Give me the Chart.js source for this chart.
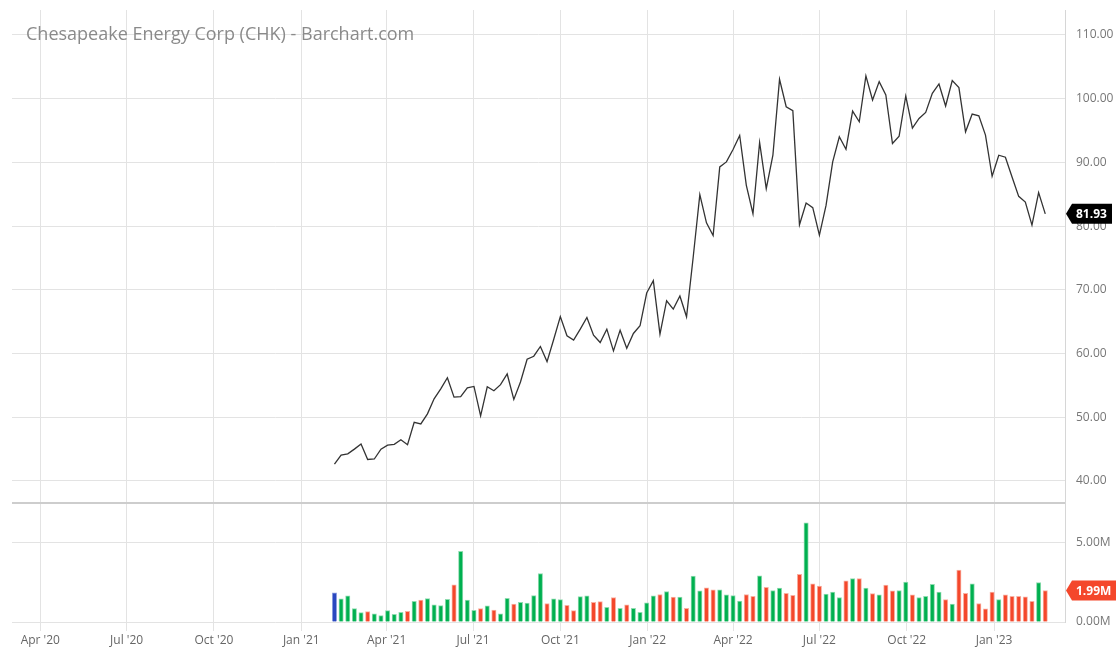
<!DOCTYPE html>
<html>
<head>
<meta charset="utf-8">
<script src="https://cdn.jsdelivr.net/npm/chart.js@4.4.1/dist/chart.umd.min.js"></script>
<style>
  body { margin: 0; background: #fff; }
  #wrap { position: relative; width: 1116px; height: 648px; overflow: hidden; }
  canvas { position: absolute; left: 0; }
  #price { top: 0; }
  #volume { top: 502px; }
  #title {
    position: absolute; left: 26px; top: 24px;
    font: 18px "Open Sans", sans-serif; line-height: 18px;
    color: #8a8a8a; white-space: nowrap;
  }
</style>
</head>
<body>
<div id="wrap">
  <canvas id="price" width="1116" height="502"></canvas>
  <canvas id="volume" width="1116" height="146"></canvas>
  <div id="title">Chesapeake Energy Corp (CHK) - Barchart.com</div>
</div>
<script>
// weekly data, first week of trading after relisting
const firstWeek = '2021-02-05';

const closes = [
  42.63, 44.05, 44.26, 45.00, 45.79, 43.37, 43.45, 45.00, 45.63, 45.74,
  46.47, 45.68, 49.21, 48.95, 50.53, 52.89, 54.47, 56.21, 53.16, 53.25,
  54.63, 54.84, 50.21, 54.79, 54.16, 55.11, 56.79, 52.79, 55.53, 59.11,
  59.58, 61.11, 58.74, 62.21, 65.79, 62.79, 62.10, 63.83, 65.67, 62.89,
  61.73, 63.83, 60.42, 63.67, 60.84, 63.15, 64.36, 69.50, 71.44, 63.04,
  68.29, 66.98, 69.03, 65.77, 75.12, 84.93, 80.52, 78.53, 89.29, 90.08,
  92.02, 94.23, 86.40, 81.94, 93.12, 85.88, 91.13, 103.04, 98.74, 98.11,
  80.21, 83.62, 82.89, 78.58, 83.25, 90.08, 94.02, 92.07, 98.06, 96.38,
  103.57, 99.79, 102.68, 100.58, 92.97, 94.12, 100.42, 95.38, 96.90, 97.85,
  100.84, 102.31, 98.85, 102.83, 101.73, 94.80, 97.59, 97.32, 94.28, 87.82,
  91.13, 90.81, 87.72, 84.67, 83.78, 80.16, 85.25, 81.93
];

// volume in millions of shares
const volumes = [
  1.84, 1.46, 1.65, 0.85, 0.59, 0.66, 0.51, 0.40, 0.72, 0.49,
  0.61, 0.68, 1.31, 1.38, 1.48, 1.08, 1.04, 1.44, 2.35, 4.47,
  1.38, 0.74, 0.85, 1.02, 0.76, 0.51, 1.50, 1.14, 1.25, 1.19,
  1.67, 3.07, 1.17, 1.46, 1.42, 1.06, 0.72, 1.61, 1.65, 1.25,
  1.29, 0.93, 1.55, 0.87, 1.08, 0.87, 0.61, 1.21, 1.65, 1.74,
  1.93, 1.57, 1.57, 0.87, 2.90, 1.97, 2.16, 2.03, 2.03, 1.72,
  1.67, 1.33, 1.74, 1.63, 2.92, 2.20, 1.99, 2.14, 1.82, 1.69,
  3.01, 6.27, 2.42, 2.27, 1.76, 1.89, 1.55, 2.61, 2.75, 2.75,
  2.14, 1.80, 1.72, 2.33, 1.97, 1.99, 2.52, 1.72, 1.55, 1.63,
  2.39, 1.89, 1.42, 1.14, 3.28, 1.82, 2.42, 1.17, 0.83, 1.89,
  1.42, 1.72, 1.63, 1.63, 1.59, 1.31, 2.50, 1.99
];

const tickDates = ['2020-04-01', '2020-07-01', '2020-10-01', '2021-01-01', '2021-04-01', '2021-07-01',
                   '2021-10-01', '2022-01-01', '2022-04-01', '2022-07-01', '2022-10-01', '2023-01-01'];
const tickLabels = ["Apr '20", "Jul '20", "Oct '20", "Jan '21", "Apr '21", "Jul '21",
                    "Oct '21", "Jan '22", "Apr '22", "Jul '22", "Oct '22", "Jan '23"];
const priceTicks = [40, 50, 60, 70, 80, 90, 100, 110];
const volumeTicks = [0, 5];

const dayNum = s => Date.UTC(+s.slice(0, 4), +s.slice(5, 7) - 1, +s.slice(8, 10)) / 864e5;
const weekDays = closes.map((_, i) => dayNum(firstWeek) + 7 * i);
const tickDays = tickDates.map(dayNum);
const xMin = dayNum('2020-04-01') - 29.8;
const xMax = dayNum('2023-01-01') + 74.8;

const GRID = '#e3e3e3';
const FONT = { family: '"Open Sans", sans-serif', size: 12 };
const UP = '#00b050', DOWN = '#f4472b', FIRST = '#2a48c0';

const barColors = closes.map((c, i) => i === 0 ? FIRST : (c >= closes[i - 1] ? UP : DOWN));
const barBorders = closes.map((c, i) => i === 0 ? '#8fa0e0' : (c >= closes[i - 1] ? '#8fdcb0' : '#f9b0a2'));

// keep the plot box exactly where the layout padding puts it
const noPad = s => { s.paddingTop = 0; s.paddingBottom = 0; s.paddingLeft = 0; s.paddingRight = 0; };

const sharedX = {
    type: 'linear',
    min: xMin,
    max: xMax,
    offset: false,
    afterBuildTicks: s => { s.ticks = tickDays.map(v => ({ value: v })); },
};

// little arrow tag showing the last value on the right axis
const lastTag = {
    id: 'lastTag',
    afterDraw(chart, args, opts) {
        const { ctx, chartArea } = chart;
        const y = chart.scales.y.getPixelForValue(opts.value);
        const x = chartArea.right + 1;
        ctx.save();
        ctx.fillStyle = opts.color;
        ctx.beginPath();
        ctx.moveTo(x, y);
        ctx.lineTo(x + 6, y - 10);
        ctx.lineTo(x + opts.width, y - 10);
        ctx.lineTo(x + opts.width, y + 10);
        ctx.lineTo(x + 6, y + 10);
        ctx.closePath();
        ctx.fill();
        ctx.fillStyle = '#fff';
        ctx.font = 'bold 12px "Open Sans", sans-serif';
        ctx.textBaseline = 'middle';
        ctx.textAlign = 'left';
        ctx.fillText(opts.text, x + 10, y + 1);
        ctx.restore();
    }
};

const separator = {
    id: 'separator',
    afterDraw(chart) {
        const { ctx, chartArea } = chart;
        ctx.save();
        ctx.fillStyle = '#cdcdcd';
        ctx.fillRect(chartArea.left, chartArea.top, chartArea.right - chartArea.left, 2);
        ctx.restore();
    }
};

new Chart(document.getElementById('price'), {
    type: 'line',
    data: {
        datasets: [{
            data: weekDays.map((d, i) => ({ x: d, y: closes[i] })),
            borderColor: '#333',
            borderWidth: 1.3,
            pointRadius: 0,
            tension: 0
        }]
    },
    options: {
        responsive: false,
        animation: false,
        layout: { padding: { top: 10, left: 12, right: 0, bottom: 0 } },
        plugins: {
            legend: { display: false },
            tooltip: { enabled: false },
            lastTag: { value: closes[closes.length - 1], text: closes[closes.length - 1].toFixed(2), color: '#000', width: 46 }
        },
        scales: {
            x: Object.assign({}, sharedX, {
                ticks: { display: false },
                grid: { color: GRID, drawTicks: false },
                border: { display: false },
                afterFit: s => { s.height = 0; noPad(s); }
            }),
            y: {
                position: 'right',
                min: 36.70,
                max: 113.92,
                afterBuildTicks: s => { s.ticks = priceTicks.map(v => ({ value: v })); },
                ticks: { callback: v => v.toFixed(2), color: '#777', font: FONT, padding: 11 },
                grid: { color: GRID, drawTicks: false },
                border: { display: true, color: '#d6d6d6' },
                afterFit: s => { s.width = 51; noPad(s); }
            }
        }
    },
    plugins: [lastTag]
});

new Chart(document.getElementById('volume'), {
    type: 'bar',
    data: {
        datasets: [{
            data: weekDays.map((d, i) => ({ x: d, y: volumes[i] })),
            backgroundColor: barColors,
            borderColor: barBorders,
            borderWidth: 1,
            barThickness: 4.4
        }]
    },
    options: {
        responsive: false,
        animation: false,
        layout: { padding: { top: 0, left: 12, right: 0, bottom: 0 } },
        plugins: {
            legend: { display: false },
            tooltip: { enabled: false },
            lastTag: { value: volumes[volumes.length - 1], text: volumes[volumes.length - 1].toFixed(2) + 'M', color: '#f4472b', width: 52 }
        },
        scales: {
            x: Object.assign({}, sharedX, {
                ticks: {
                    autoSkip: false, maxRotation: 0, color: '#666', font: FONT, padding: 2,
                    callback: v => tickLabels[tickDays.indexOf(v)]
                },
                grid: { color: GRID, drawTicks: true, tickLength: 9, offset: false },
                border: { display: false },
                afterFit: s => { s.height = 26; noPad(s); }
            }),
            y: {
                position: 'right',
                min: 0,
                max: 7.59,
                afterBuildTicks: s => { s.ticks = volumeTicks.map(v => ({ value: v })); },
                ticks: { callback: v => v.toFixed(2) + 'M', color: '#777', font: FONT, padding: 11 },
                grid: { color: GRID, drawTicks: false },
                border: { display: true, color: '#d6d6d6' },
                afterFit: s => { s.width = 51; noPad(s); }
            }
        }
    },
    plugins: [lastTag, separator]
});
</script>
</body>
</html>
